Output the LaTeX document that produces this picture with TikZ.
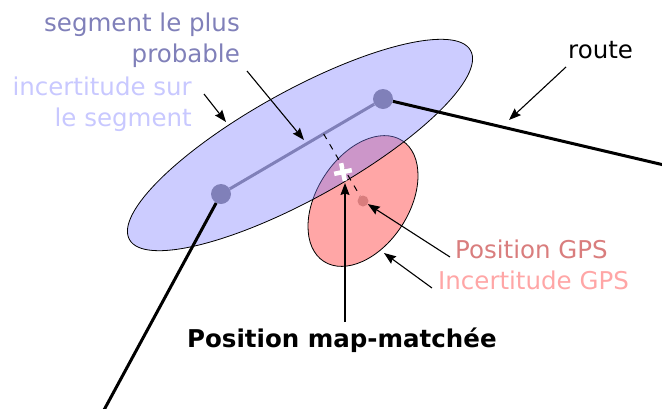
\documentclass[tikz,border=0pt]{standalone}
\usepackage{fontspec}
\setmainfont{DejaVu Sans}
\usetikzlibrary{arrows.meta,calc}

\definecolor{segblue}{RGB}{128,128,185}
\definecolor{uncblue}{RGB}{128,128,255}
\definecolor{lightblue}{RGB}{200,200,255}
\definecolor{gpsred}{RGB}{217,125,125}
\definecolor{uncred}{RGB}{255,166,166}

\begin{document}
\begin{tikzpicture}[
  x=1pt, y=-1pt,
  every node/.style={inner sep=0pt, font=\fontsize{24.5}{30.6}\selectfont},
  pointer/.style={-{Stealth[length=12pt, width=9pt, inset=1.5pt]}, line width=1.1pt},
  road/.style={line width=3pt},
  dot/.style={circle, fill=segblue, minimum size=20pt},
  label/.style={align=right, anchor=base east}
]
\useasboundingbox (0,0) rectangle (662,408);

% ---------- uncertainty ellipses ----------
\coordinate (gps)    at (363,201);
\coordinate (segmid) at (300,145);
\draw[fill=uncred, line width=0.8pt, rotate around={57:(gps)}]
  (gps) ellipse [x radius=72pt, y radius=46pt];
\draw[fill=uncblue, fill opacity=0.4, line width=0.8pt, rotate around={29:(segmid)}]
  (segmid) ellipse [x radius=195pt, y radius=54pt];

% ---------- road and segment ----------
\node[dot] (segA) at (221,194) {};
\node[dot] (segB) at (383,99)  {};
\coordinate (roadS) at (104,410);
\coordinate (roadE) at (664,165);

\draw[road] (roadS) -- (segA);
\draw[road] (segB) -- (roadE);
\draw[road, segblue] (segA) -- (segB);

% ---------- GPS point and projection ----------
\node[circle, fill=gpsred, minimum size=11pt] (gpsdot) at (gps) {};
\coordinate (foot) at ($(segA)!(gps)!(segB)$);
\draw[dash pattern=on 6pt off 6pt, line width=1pt] (foot) -- (gpsdot);

\coordinate (mm) at (343,172);
\begin{scope}[white, line width=4.5pt, rotate around={12:(mm)}]
  \draw ($(mm)+(-9,0)$) -- ($(mm)+(9,0)$);
  \draw ($(mm)+(0,-9)$) -- ($(mm)+(0,9)$);
\end{scope}

% ---------- labels ----------
\node[label, text=segblue]   (seglabel) at (240,62)  {segment le plus\\probable};
\node[label, text=lightblue] (unclabel) at (192,126) {incertitude sur\\le segment};
\node[anchor=base west]      (roadlabel) at (568,58) {route};
\node[anchor=base west, text=gpsred] (gpslabel) at (455,258) {Position GPS};
\node[anchor=base west, text=uncred] (gpsunclabel) at (438,289) {Incertitude GPS};
\node[anchor=base west, font=\fontsize{24.5}{30.6}\selectfont\bfseries]
  (mmlabel) at (187,347) {Position map-matchée};

% ---------- pointers ----------
\coordinate (segtail)    at (247,71);
\coordinate (segtip)     at (304,140);
\coordinate (unctail)    at (204,94);
\coordinate (unctip)     at (226,122);
\coordinate (roadtail)   at (566,67);
\coordinate (roadtip)    at (509,120);
\coordinate (gpstail)    at (450,257);
\coordinate (gpsunctail) at (432,288);
\coordinate (gpsunctip)  at (384,253);
\coordinate (mmtail)     at (345,322);
\coordinate (mmtip)      at (345,183);

\draw[pointer] (segtail) -- (segtip);
\draw[pointer] (unctail) -- (unctip);
\draw[pointer] (roadtail) -- (roadtip);
\draw[pointer] (gpstail) -- (gpsdot);
\draw[pointer] (gpsunctail) -- (gpsunctip);
\draw[pointer] (mmtail) -- (mmtip);

\end{tikzpicture}
\end{document}
